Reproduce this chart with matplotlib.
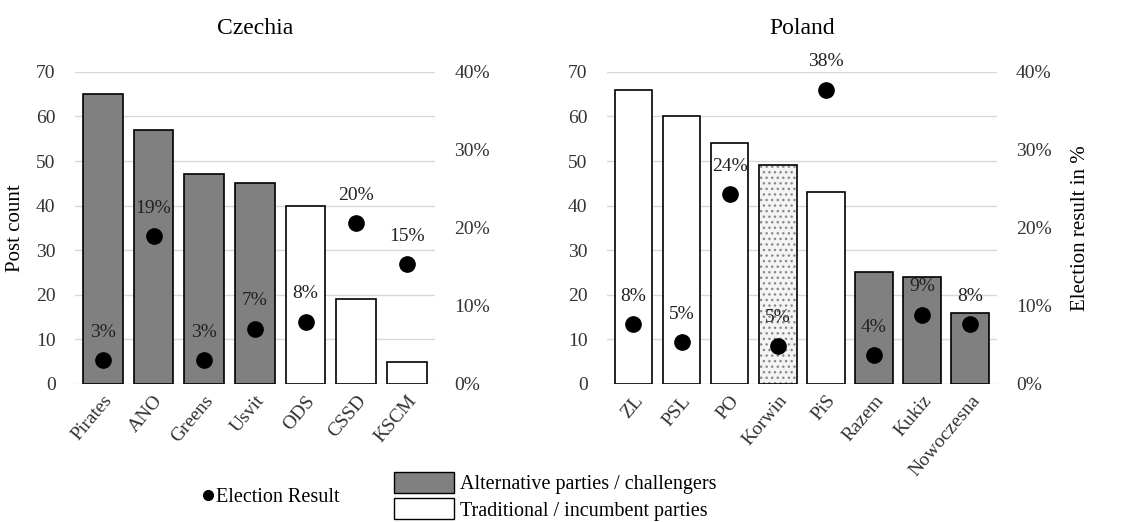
import matplotlib.pyplot as plt
from matplotlib.patches import Patch
from matplotlib.lines import Line2D

plt.rcParams['font.family'] = ['Liberation Serif', 'DejaVu Serif']

# data
cz_parties = ["Pirates", "ANO", "Greens", "Usvit", "ODS", "CSSD", "KSCM"]
cz_posts = [65, 57, 47, 45, 40, 19, 5]
cz_result = [3.1, 18.9, 3.1, 7.1, 8.0, 20.6, 15.4]
cz_labels = ["3%", "19%", "3%", "7%", "8%", "20%", "15%"]
cz_type = ["alt", "alt", "alt", "alt", "trad", "trad", "trad"]

pl_parties = ["ZL", "PSL", "PO", "Korwin", "PiS", "Razem", "Kukiz", "Nowoczesna"]
pl_posts = [66, 60, 54, 49, 43, 25, 24, 16]
pl_result = [7.7, 5.4, 24.3, 4.9, 37.7, 3.7, 8.9, 7.7]
pl_labels = ["8%", "5%", "24%", "5%", "38%", "4%", "9%", "8%"]
pl_type = ["trad", "trad", "trad", "dot", "trad", "alt", "alt", "alt"]

GRAY = "#808080"
fig = plt.figure(figsize=(11.46, 5.22), dpi=100)


def panel(rect, title, parties, posts, result, labels, kinds, left_label, right_label):
    ax = fig.add_axes(rect)
    x = range(len(parties))
    for i, k in enumerate(kinds):
        if k == "alt":
            ax.bar(i, posts[i], width=0.78, color=GRAY, edgecolor="black", lw=1.2, zorder=2)
        elif k == "trad":
            ax.bar(i, posts[i], width=0.78, color="white", edgecolor="black", lw=1.2, zorder=2)
        else:
            ax.bar(i, posts[i], width=0.78, color="#f4f4f4", edgecolor="#8a8a8a", lw=0,
                   hatch="...", zorder=2)
            ax.bar(i, posts[i], width=0.78, fill=False, edgecolor="black", lw=1.2, zorder=3)
    ax.set_xlim(-0.55, len(parties) - 0.45)
    ax.set_ylim(0, 70)
    ax.set_yticks(range(0, 71, 10))
    ax.grid(axis="y", color="#d9d9d9", lw=1, zorder=0)
    ax.set_axisbelow(True)
    for s in ax.spines.values():
        s.set_visible(False)
    ax.tick_params(length=0, labelsize=14, colors="#333333")
    ax.set_xticks(list(x))
    ax.set_xticklabels(parties, rotation=50, ha="right", rotation_mode="anchor", fontsize=14)
    ax.tick_params(axis="x", pad=6)
    ax.tick_params(axis="y", pad=14)
    ax.set_title(title, fontsize=17, pad=27)
    if left_label:
        ax.set_ylabel(left_label, fontsize=15, labelpad=8)

    ax2 = ax.twinx()
    ax2.set_ylim(0, 40)
    ax2.set_yticks(range(0, 41, 10))
    ax2.set_yticklabels([f"{v}%" for v in range(0, 41, 10)])
    for s in ax2.spines.values():
        s.set_visible(False)
    ax2.tick_params(length=0, labelsize=14, colors="#333333", pad=14)
    ax2.plot(list(x), result, "o", color="black", ms=11, zorder=5)
    for i, (r, lab) in enumerate(zip(result, labels)):
        ax2.annotate(lab, (i, r), xytext=(0, 20), textcoords="offset points",
                     ha="center", va="center", fontsize=14, color="#222222")
    if right_label:
        ax2.set_ylabel(right_label, fontsize=15, labelpad=14)
    return ax


panel([0.0654, 0.2644, 0.314, 0.598], "Czechia", cz_parties, cz_posts, cz_result,
      cz_labels, cz_type, "Post count", None)
panel([0.5297, 0.2644, 0.340, 0.598], "Poland", pl_parties, pl_posts, pl_result,
      pl_labels, pl_type, None, "Election result in %")

dot_handle = Line2D([], [], marker="o", ls="none", color="black", ms=7)
fig.legend([dot_handle], ["Election Result"], loc="center", bbox_to_anchor=(0.235, 0.047),
           frameon=False, fontsize=14.5, handletextpad=0.0, handlelength=0.8)
patches = [Patch(facecolor=GRAY, edgecolor="black"), Patch(facecolor="white", edgecolor="black")]
fig.legend(patches, ["Alternative parties / challengers", "Traditional / incumbent parties"],
           loc="upper left", bbox_to_anchor=(0.328, 0.13), frameon=False, fontsize=14.5,
           handlelength=3.0, handleheight=1.2, handletextpad=0.3, labelspacing=0.2)

fig.savefig("out.png", dpi=100)
